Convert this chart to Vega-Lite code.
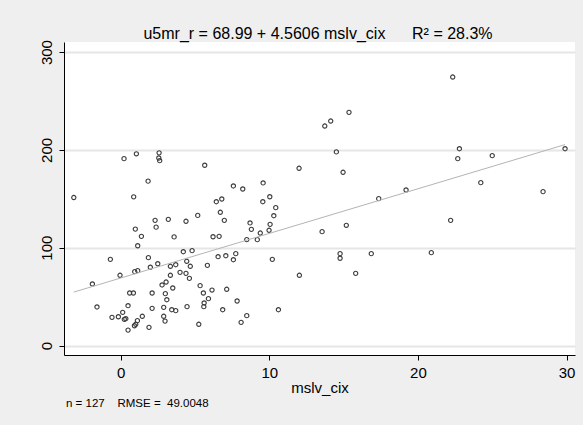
{
  "$schema": "https://vega.github.io/schema/vega-lite/v6.json",
  "background": "#efefef",
  "padding": {"left": 39, "top": 25, "right": 8, "bottom": 22},
  "title": {
    "text": "u5mr_r = 68.99 + 4.5606 mslv_cix\u00a0\u00a0\u00a0\u00a0\u00a0\u00a0R\u00b2 = 28.3%",
    "font": "Liberation Sans",
    "fontSize": 16,
    "fontWeight": "normal",
    "color": "#000000",
    "anchor": "middle",
    "offset": -2,
    "dx": 11
  },
  "datasets": {
    "pts": [
      {"mslv_cix": -3.16, "u5mr_r": 151.3}, {"mslv_cix": 0.22, "u5mr_r": 191}, {"mslv_cix": 1.05, "u5mr_r": 196},
      {"mslv_cix": 2.58, "u5mr_r": 197}, {"mslv_cix": 2.56, "u5mr_r": 191.7}, {"mslv_cix": 2.62, "u5mr_r": 189},
      {"mslv_cix": 1.84, "u5mr_r": 168}, {"mslv_cix": 5.65, "u5mr_r": 184.3}, {"mslv_cix": 0.87, "u5mr_r": 152},
      {"mslv_cix": 6.43, "u5mr_r": 147}, {"mslv_cix": 6.8, "u5mr_r": 149.8}, {"mslv_cix": 6.7, "u5mr_r": 136.2},
      {"mslv_cix": 6.97, "u5mr_r": 128}, {"mslv_cix": 2.31, "u5mr_r": 128}, {"mslv_cix": 3.2, "u5mr_r": 129},
      {"mslv_cix": 4.39, "u5mr_r": 127}, {"mslv_cix": 5.18, "u5mr_r": 133}, {"mslv_cix": 2.38, "u5mr_r": 121},
      {"mslv_cix": 0.98, "u5mr_r": 119}, {"mslv_cix": 1.39, "u5mr_r": 111.6}, {"mslv_cix": 1.14, "u5mr_r": 102},
      {"mslv_cix": 3.59, "u5mr_r": 111}, {"mslv_cix": 6.21, "u5mr_r": 111.2}, {"mslv_cix": 6.62, "u5mr_r": 111.6},
      {"mslv_cix": -0.7, "u5mr_r": 88.1}, {"mslv_cix": 1.86, "u5mr_r": 89.8}, {"mslv_cix": 4.21, "u5mr_r": 95.9},
      {"mslv_cix": 4.8, "u5mr_r": 97}, {"mslv_cix": 6.55, "u5mr_r": 90.8}, {"mslv_cix": 7.07, "u5mr_r": 91.8},
      {"mslv_cix": -0.05, "u5mr_r": 71.8}, {"mslv_cix": 0.94, "u5mr_r": 75.5}, {"mslv_cix": 1.14, "u5mr_r": 76.5},
      {"mslv_cix": 1.99, "u5mr_r": 80}, {"mslv_cix": 2.49, "u5mr_r": 83.6}, {"mslv_cix": 3.34, "u5mr_r": 81},
      {"mslv_cix": 3.7, "u5mr_r": 82.6}, {"mslv_cix": 4.44, "u5mr_r": 86.1}, {"mslv_cix": 4.68, "u5mr_r": 81},
      {"mslv_cix": 5.83, "u5mr_r": 82}, {"mslv_cix": 3.34, "u5mr_r": 71.8}, {"mslv_cix": 3.99, "u5mr_r": 74.8},
      {"mslv_cix": 4.39, "u5mr_r": 73.8}, {"mslv_cix": 4.62, "u5mr_r": 68.7}, {"mslv_cix": -1.91, "u5mr_r": 62.9},
      {"mslv_cix": 2.78, "u5mr_r": 61.9}, {"mslv_cix": 3.05, "u5mr_r": 64.9}, {"mslv_cix": 3.5, "u5mr_r": 58.8},
      {"mslv_cix": 5.34, "u5mr_r": 61.2}, {"mslv_cix": 5.56, "u5mr_r": 53.7}, {"mslv_cix": 6.14, "u5mr_r": 56.7},
      {"mslv_cix": 7.13, "u5mr_r": 57.5}, {"mslv_cix": 5.9, "u5mr_r": 47.9}, {"mslv_cix": 0.6, "u5mr_r": 53.7},
      {"mslv_cix": 0.85, "u5mr_r": 53.7}, {"mslv_cix": 2.11, "u5mr_r": 53.7}, {"mslv_cix": 3.0, "u5mr_r": 53},
      {"mslv_cix": 3.1, "u5mr_r": 46.8}, {"mslv_cix": 5.61, "u5mr_r": 43.5}, {"mslv_cix": 5.59, "u5mr_r": 39.7},
      {"mslv_cix": 6.86, "u5mr_r": 36.6}, {"mslv_cix": -1.6, "u5mr_r": 39.4}, {"mslv_cix": 0.49, "u5mr_r": 40.7},
      {"mslv_cix": 2.11, "u5mr_r": 38}, {"mslv_cix": 2.89, "u5mr_r": 39}, {"mslv_cix": 3.43, "u5mr_r": 36.6},
      {"mslv_cix": 3.7, "u5mr_r": 35.6}, {"mslv_cix": 4.46, "u5mr_r": 39.7}, {"mslv_cix": -0.59, "u5mr_r": 28.8},
      {"mslv_cix": -0.16, "u5mr_r": 29.4}, {"mslv_cix": 0.13, "u5mr_r": 33.9}, {"mslv_cix": 0.24, "u5mr_r": 26.8},
      {"mslv_cix": 0.34, "u5mr_r": 27.4}, {"mslv_cix": 0.49, "u5mr_r": 15.8}, {"mslv_cix": 0.92, "u5mr_r": 20.2},
      {"mslv_cix": 1.01, "u5mr_r": 21.7}, {"mslv_cix": 1.12, "u5mr_r": 25.4}, {"mslv_cix": 1.45, "u5mr_r": 29.9},
      {"mslv_cix": 1.9, "u5mr_r": 18.6}, {"mslv_cix": 2.89, "u5mr_r": 29.9}, {"mslv_cix": 2.98, "u5mr_r": 25},
      {"mslv_cix": 5.25, "u5mr_r": 21.7}, {"mslv_cix": 15.36, "u5mr_r": 238.4}, {"mslv_cix": 13.73, "u5mr_r": 224.4},
      {"mslv_cix": 14.13, "u5mr_r": 229.5}, {"mslv_cix": 14.51, "u5mr_r": 197.9}, {"mslv_cix": 12.0, "u5mr_r": 181.2},
      {"mslv_cix": 14.96, "u5mr_r": 177.1}, {"mslv_cix": 7.58, "u5mr_r": 163.1}, {"mslv_cix": 8.21, "u5mr_r": 160},
      {"mslv_cix": 9.58, "u5mr_r": 166.2}, {"mslv_cix": 9.56, "u5mr_r": 147}, {"mslv_cix": 10.03, "u5mr_r": 152.1},
      {"mslv_cix": 10.43, "u5mr_r": 140.9}, {"mslv_cix": 10.3, "u5mr_r": 132.7}, {"mslv_cix": 17.36, "u5mr_r": 150.1},
      {"mslv_cix": 8.7, "u5mr_r": 125.3}, {"mslv_cix": 8.79, "u5mr_r": 118.8}, {"mslv_cix": 10.05, "u5mr_r": 123.9},
      {"mslv_cix": 9.98, "u5mr_r": 117.8}, {"mslv_cix": 9.39, "u5mr_r": 115}, {"mslv_cix": 8.48, "u5mr_r": 108.2},
      {"mslv_cix": 9.19, "u5mr_r": 108.2}, {"mslv_cix": 13.55, "u5mr_r": 116.4}, {"mslv_cix": 15.18, "u5mr_r": 122.9},
      {"mslv_cix": 7.74, "u5mr_r": 93.9}, {"mslv_cix": 7.58, "u5mr_r": 87.7}, {"mslv_cix": 10.2, "u5mr_r": 88.1},
      {"mslv_cix": 14.76, "u5mr_r": 93.9}, {"mslv_cix": 14.76, "u5mr_r": 89.2}, {"mslv_cix": 16.86, "u5mr_r": 93.9},
      {"mslv_cix": 12.02, "u5mr_r": 71.8}, {"mslv_cix": 15.81, "u5mr_r": 73.8}, {"mslv_cix": 7.83, "u5mr_r": 45.5},
      {"mslv_cix": 10.61, "u5mr_r": 36.6}, {"mslv_cix": 8.1, "u5mr_r": 23.7}, {"mslv_cix": 8.48, "u5mr_r": 30.5},
      {"mslv_cix": 22.34, "u5mr_r": 274.5}, {"mslv_cix": 22.79, "u5mr_r": 201.2}, {"mslv_cix": 22.68, "u5mr_r": 191},
      {"mslv_cix": 25.0, "u5mr_r": 194.1}, {"mslv_cix": 29.9, "u5mr_r": 201.2}, {"mslv_cix": 19.2, "u5mr_r": 159},
      {"mslv_cix": 24.23, "u5mr_r": 166.5}, {"mslv_cix": 28.42, "u5mr_r": 157.3}, {"mslv_cix": 22.2, "u5mr_r": 128},
      {"mslv_cix": 20.9, "u5mr_r": 94.9}
    ],
    "fit": [
      {"mslv_cix": -3.16, "u5mr_r": 54.6},
      {"mslv_cix": 29.9, "u5mr_r": 205.4}
    ]
  },
  "vconcat": [
    {
      "width": 511,
      "height": 313,
      "title": {
        "text": "n = 127\u00a0\u00a0\u00a0\u00a0RMSE =\u00a0\u00a049.0048",
        "orient": "bottom",
        "anchor": "start",
        "frame": "group",
        "font": "Liberation Sans",
        "fontSize": 11.5,
        "fontWeight": "normal",
        "color": "#000000",
        "offset": 3,
        "dx": 2
      },
      "layer": [
        {
          "data": {"name": "pts"},
          "mark": {"type": "point", "shape": "circle", "filled": false, "size": 18, "stroke": "#3c3c3c", "strokeWidth": 1.1, "opacity": 1},
          "encoding": {
            "x": {
              "field": "mslv_cix", "type": "quantitative",
              "scale": {"domain": [-3.82, 30.57], "nice": false, "zero": false},
              "axis": {"values": [0, 10, 20, 30], "title": "mslv_cix", "grid": false}
            },
            "y": {
              "field": "u5mr_r", "type": "quantitative",
              "scale": {"domain": [-9.7, 310.3], "nice": false, "zero": false},
              "axis": {"values": [0, 100, 200, 300], "title": null, "grid": true, "labelAngle": -90, "labelAlign": "center", "labelBaseline": "bottom"}
            }
          }
        },
        {
          "data": {"name": "fit"},
          "mark": {"type": "line", "color": "#b4b4b4", "strokeWidth": 1},
          "encoding": {
            "x": {"field": "mslv_cix", "type": "quantitative"},
            "y": {"field": "u5mr_r", "type": "quantitative"}
          }
        }
      ]
    }
  ],
  "config": {
    "view": {"fill": "#ffffff", "stroke": null},
    "font": "Liberation Sans",
    "axis": {
      "domainColor": "#000000",
      "domainWidth": 1,
      "tickColor": "#000000",
      "tickWidth": 1,
      "tickSize": 5,
      "labelFont": "Liberation Sans",
      "labelFontSize": 15,
      "labelColor": "#000000",
      "labelPadding": 5,
      "titleFont": "Liberation Sans",
      "titleFontSize": 15,
      "titleFontWeight": "normal",
      "titleColor": "#000000",
      "titlePadding": 0,
      "gridColor": "#e6e6e6",
      "gridWidth": 2,
      "labelFlush": false,
      "labelOverlap": false
    }
  }
}
